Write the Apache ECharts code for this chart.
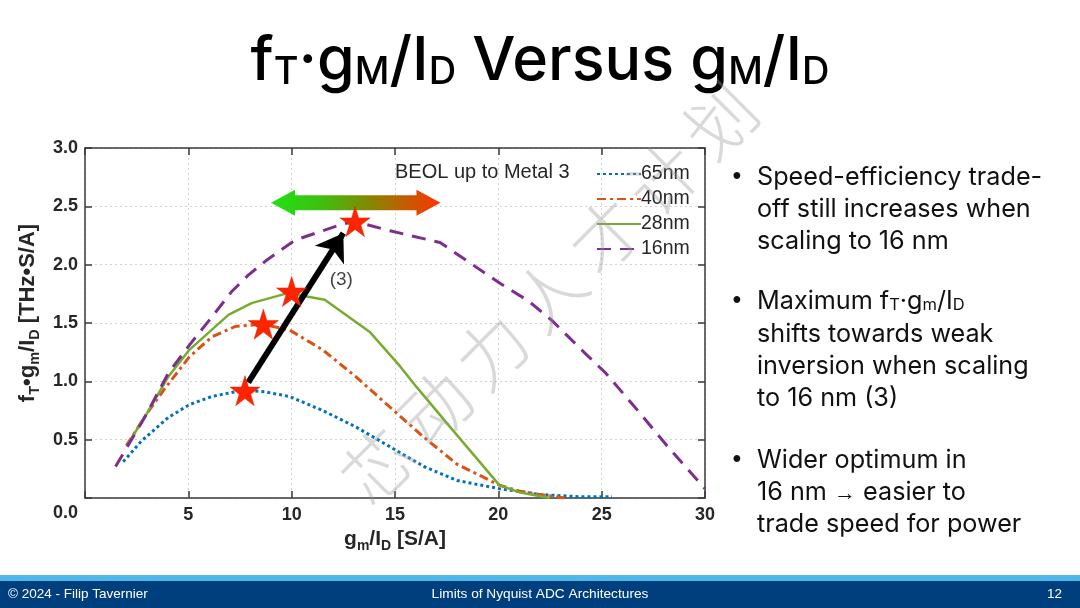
<!DOCTYPE html>
<html><head><meta charset="utf-8">
<script src="https://cdn.jsdelivr.net/npm/echarts@6/dist/echarts.min.js"></script>
<style>html,body{margin:0;padding:0;background:#fff}#c{width:1080px;height:608px}</style>
</head><body><div id="c"></div>
<script>
// ---- data ----
const seriesNames = ['65nm', '40nm', '28nm', '16nm'];
const x65 = [1.85, 2.74, 4.03, 5.05, 6.13, 7.26, 8.1, 8.7, 9.9, 11.5, 13.1, 14.75, 16.4, 18.0, 20.05, 22.0, 24.0, 25.5];
const y65 = [0.31, 0.49, 0.69, 0.80, 0.87, 0.91, 0.92, 0.91, 0.87, 0.75, 0.61, 0.44, 0.27, 0.15, 0.08, 0.03, 0.01, 0.01];
const x40 = [2.0, 3.06, 3.87, 5.05, 6.13, 7.26, 8.55, 9.9, 11.5, 13.1, 14.75, 16.4, 18.0, 20.05, 21.0, 22.0, 23.2];
const y40 = [0.45, 0.74, 0.94, 1.21, 1.38, 1.47, 1.49, 1.44, 1.27, 1.04, 0.78, 0.52, 0.29, 0.11, 0.06, 0.03, 0.0];
const x28 = [2.1, 2.98, 4.03, 5.05, 6.94, 8.06, 9.68, 10.0, 11.6, 13.8, 15.24, 16.05, 17.66, 20.05, 21.0, 22.5];
const y28 = [0.47, 0.72, 1.04, 1.27, 1.57, 1.67, 1.75, 1.75, 1.70, 1.42, 1.13, 0.95, 0.61, 0.11, 0.05, 0.0];
const x16 = [1.48, 2.98, 4.03, 5.05, 6.13, 7.1, 7.9, 8.8, 10.16, 12.5, 13.07, 14.76, 17.18, 20.08, 21.45, 22.6, 24.2, 25.2, 26.6, 28.2, 30];
const y16 = [0.27, 0.72, 1.07, 1.31, 1.55, 1.77, 1.91, 2.04, 2.21, 2.35, 2.37, 2.29, 2.19, 1.84, 1.69, 1.52, 1.24, 1.07, 0.78, 0.44, 0.08];
const starX = [7.74, 8.63, 10.0, 13.07];
const starY = [0.92, 1.49, 1.77, 2.37];
const arrowFrom = [7.9, 0.99];
const arrowTo = [12.5, 2.27];
const beolArrow = [9.0, 17.2, 2.53];   // x-left, x-right, y
const label3 = [12.4, 1.87];
const xMin = 0, xMax = 30, xStep = 5;
const yMin = 0, yMax = 3, yStep = 0.5;

const zip = (a, b) => a.map((v, i) => [v, b[i]]);
const FONT = '"Liberation Sans", Arial, Helvetica, sans-serif';
const TFONT = 'Inter, "Liberation Sans", sans-serif';
const AX = '#3a3a3a';
const STAR = 'path://M50,0 L61.2,34.5 L97.6,34.5 L68.2,55.9 L79.4,90.5 L50,69.1 L20.6,90.5 L31.8,55.9 L2.4,34.5 L38.8,34.5 Z';

const chart = echarts.init(document.getElementById('c'), null, {renderer: 'canvas'});

const axisBase = {
  type: 'value',
  axisLine: {show: true, onZero: false, lineStyle: {color: AX, width: 1.5}},
  axisTick: {show: true, inside: true, length: 7, lineStyle: {color: AX, width: 1.5}},
};
const labelStyle = {fontFamily: FONT, fontWeight: 'bold', fontSize: 18, color: '#262626'};

const nameRichX = {
  b: {fontFamily: FONT, fontWeight: 'bold', fontSize: 21, color: '#262626'},
  s: {fontFamily: FONT, fontWeight: 'bold', fontSize: 14, color: '#262626', padding: [13, 0, 0, 0]}
};
const nameRichY = {
  p: {fontFamily: FONT, fontWeight: 'bold', fontSize: 22, color: '#262626', padding: [0, 0, 0, 20]},
  b: {fontFamily: FONT, fontWeight: 'bold', fontSize: 22, color: '#262626'},
  s: {fontFamily: FONT, fontWeight: 'bold', fontSize: 14.5, color: '#262626', padding: [13, 0, 0, 0]}
};

const lineSeries = (name, xs, ys, color, type, width) => ({
  name, type: 'line', data: zip(xs, ys), showSymbol: false, symbol: 'none',
  smooth: false, z: 3,
  lineStyle: {color, width, type, cap: 'butt'},
  itemStyle: {color}
});

const titleRich = {
  n: {fontFamily: TFONT, fontWeight: 500, fontSize: 61, fill: '#000', lineHeight: 72, verticalAlign: 'bottom'},
  s: {fontFamily: TFONT, fontWeight: 500, fontSize: 38, fill: '#000', lineHeight: 55, verticalAlign: 'bottom'}
};
const bRich = {
  n: {fontFamily: TFONT, fontSize: 25.2, fill: '#111', lineHeight: 32, verticalAlign: 'bottom'},
  s: {fontFamily: TFONT, fontSize: 16.5, fill: '#111', lineHeight: 26, verticalAlign: 'bottom'},
  a: {fontFamily: FONT, fontSize: 22, fill: '#111', lineHeight: 30, verticalAlign: 'bottom'}
};

const bulletLines = [
  ['Speed-efficiency trade-', 174, true],
  ['off still increases when', 206, false],
  ['scaling to 16 nm', 238, false],
  ['{n|Maximum f}{s|T}{n|·g}{s|m}{n|/I}{s|D}', 298, true],
  ['shifts towards weak', 331, false],
  ['inversion when scaling', 363, false],
  ['to 16 nm (3)', 395, false],
  ['Wider optimum in', 457, true],
  ['{n|16 nm }{a|\u2192}{n| easier to}', 489, false],
  ['trade speed for power', 521, false]
];

const graphics = [];
// title
graphics.push({type: 'text', left: 'center', top: 31, z: 10,
  style: {text: '{n|f}{s|T}{n|·g}{s|M}{n|/I}{s|D}{n| Versus g}{s|M}{n|/I}{s|D}', rich: titleRich}});
// bullets
bulletLines.forEach(([t, y, dot]) => {
  const txt = t.startsWith('{') ? t : '{n|' + t + '}';
  graphics.push({type: 'text', x: 757, y: y, z: 10,
    style: {text: txt, rich: bRich, verticalAlign: 'middle', align: 'left'}});
  if (dot) graphics.push({type: 'text', x: 737, y: y + 3, z: 10,
    style: {text: '•', fontFamily: FONT, fontSize: 25, fill: '#111', align: 'center', verticalAlign: 'middle'}});
});
// BEOL text
graphics.push({type: 'text', x: 395, y: 172, z: 10,
  style: {text: 'BEOL up to Metal 3', fontFamily: FONT, fontSize: 20, fill: '#262626', verticalAlign: 'middle'}});
// watermark
const wm = ['芯', '动', '力', '人', '才', '计', '划'];
wm.forEach((ch, i) => {
  graphics.push({type: 'text', x: 378 + i * 57, y: 466 - i * 57.5, rotation: Math.PI / 4, z: 20,
    style: {text: ch, fontFamily: '"Noto Sans CJK SC", sans-serif', fontWeight: 300, fontSize: 70,
      fill: 'rgba(150,150,150,0.36)', align: 'center', verticalAlign: 'middle'}});
});
// footer
graphics.push({type: 'rect', shape: {x: 0, y: 575, width: 1080, height: 7}, style: {fill: '#4fb8ea'}, z: 5});
graphics.push({type: 'rect', shape: {x: 0, y: 581, width: 1080, height: 27}, style: {fill: '#003f7e'}, z: 5});
graphics.push({type: 'text', x: 8, y: 594, z: 6, style: {text: '© 2024 - Filip Tavernier', fontFamily: FONT, fontSize: 13.5, fill: '#fff', verticalAlign: 'middle'}});
graphics.push({type: 'text', x: 540, y: 594, z: 6, style: {text: 'Limits of Nyquist ADC Architectures', fontFamily: FONT, fontSize: 13.7, fill: '#fff', align: 'center', verticalAlign: 'middle'}});
graphics.push({type: 'text', x: 1062, y: 594, z: 6, style: {text: '12', fontFamily: FONT, fontSize: 13.5, fill: '#fff', align: 'right', verticalAlign: 'middle'}});

const option = {
  backgroundColor: '#fff',
  animation: false,
  grid: {left: 85, right: 375, top: 148, bottom: 110, containLabel: false},
  legend: {
    orient: 'vertical', left: 591, top: 159, itemWidth: 44, itemHeight: 14, itemGap: 5,
    data: seriesNames,
    itemStyle: {opacity: 0},
    textStyle: {fontFamily: FONT, fontSize: 19.5, color: '#262626', padding: [0, 0, 0, -5]}
  },
  xAxis: [
    Object.assign({}, axisBase, {
      min: xMin, max: xMax, interval: xStep, position: 'bottom',
      axisLabel: Object.assign({}, labelStyle, {margin: 8, formatter: v => v === 0 ? '' : String(v)}),
      splitLine: {show: true, lineStyle: {color: '#d2d2d2', type: [2, 3], width: 1}},
      name: '{b|g}{s|m}{b|/I}{s|D}{b| [S/A]}', nameLocation: 'middle', nameGap: 27,
      nameTextStyle: {rich: nameRichX}
    }),
    Object.assign({}, axisBase, {
      min: xMin, max: xMax, interval: xStep, position: 'top',
      axisLabel: {show: false}, splitLine: {show: false}
    })
  ],
  yAxis: [
    Object.assign({}, axisBase, {
      min: yMin, max: yMax, interval: yStep, position: 'left',
      axisLabel: Object.assign({}, labelStyle, {margin: 7,
        formatter: v => v === 0 ? '{z|0.0}' : v.toFixed(1),
        rich: {z: Object.assign({}, labelStyle, {padding: [30, 0, 0, 0]})}}),
      splitLine: {show: true, lineStyle: {color: '#d2d2d2', type: [2, 3], width: 1}},
      name: '{p|f}{s|T}{b|•g}{s|m}{b|/I}{s|D}{b| [THz•S/A]}', nameLocation: 'middle', nameGap: 34,
      nameRotate: 90, nameTextStyle: {rich: nameRichY}
    }),
    Object.assign({}, axisBase, {
      min: yMin, max: yMax, interval: yStep, position: 'right',
      axisLabel: {show: false}, splitLine: {show: false}
    })
  ],
  series: [
    lineSeries('65nm', x65, y65, '#0072bd', [3, 3], 3),
    lineSeries('40nm', x40, y40, '#d95319', [9, 4, 3, 4], 3),
    lineSeries('28nm', x28, y28, '#77ac30', 'solid', 2.5),
    lineSeries('16nm', x16, y16, '#7e2f8e', [14, 9], 3),
    {
      type: 'custom', z: 4, data: [beolArrow], encode: {x: [0, 1], y: 2},
      renderItem: (params, api) => {
        const p0 = api.coord([api.value(0), api.value(2)]);
        const p1 = api.coord([api.value(1), api.value(2)]);
        const hl = 24, hh = 13, sh = 7.5, y = p0[1];
        const pts = [[p0[0], y], [p0[0] + hl, y - hh], [p0[0] + hl, y - sh], [p1[0] - hl, y - sh], [p1[0] - hl, y - hh],
          [p1[0], y], [p1[0] - hl, y + hh], [p1[0] - hl, y + sh], [p0[0] + hl, y + sh], [p0[0] + hl, y + hh]];
        return {type: 'polygon', shape: {points: pts}, style: {
          fill: new echarts.graphic.LinearGradient(0, 0, 1, 0, [
            {offset: 0, color: '#1ee312'}, {offset: 0.3, color: '#3fbf10'},
            {offset: 0.6, color: '#8a8400'}, {offset: 1, color: '#ff3200'}])}};
      }
    },
    {
      type: 'lines', coordinateSystem: 'cartesian2d', z: 5,
      data: [{coords: [arrowFrom, arrowTo]}],
      symbol: ['none', 'arrow'], symbolSize: [0, 26],
      lineStyle: {color: '#000', width: 6, opacity: 1}
    },
    {
      type: 'scatter', z: 6, data: zip(starX, starY), symbol: STAR, symbolSize: 30,
      itemStyle: {color: '#ff2400', borderColor: '#e01c00', borderWidth: 0.5, opacity: 1}
    },
    {
      type: 'scatter', z: 6, data: [label3], symbolSize: 0,
      label: {show: true, position: 'inside', formatter: '(3)', fontFamily: FONT, fontSize: 19, color: '#111'}
    }
  ],
  graphic: graphics
};
chart.setOption(option);
</script>
</body></html>
